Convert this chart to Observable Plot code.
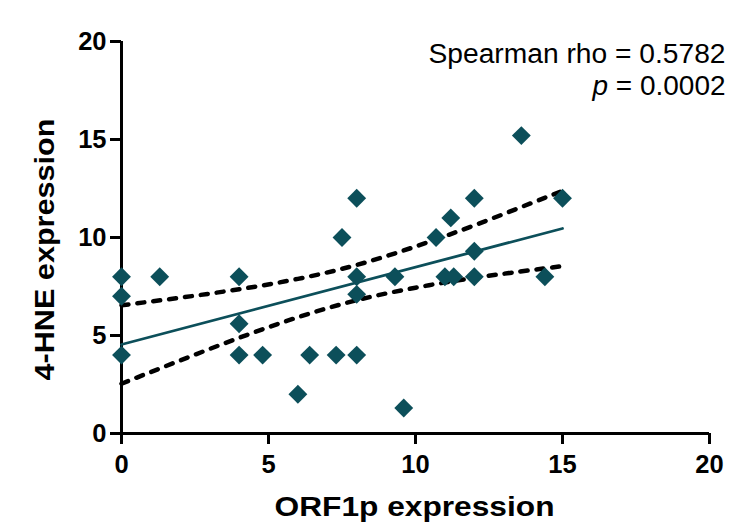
<!DOCTYPE html>
<html><head><meta charset="utf-8">
<script src="https://cdn.jsdelivr.net/npm/d3@7"></script>
<script src="https://cdn.jsdelivr.net/npm/@observablehq/plot@0.6"></script>
<style>body{margin:0;background:#fff;}</style>
</head><body><div id="chart"></div>
<script>
// ORF1p (x) vs 4-HNE (y)
const orf1p = [0, 0, 0, 1.3, 4, 4, 4, 4.8, 6, 6.4, 7.3, 7.5, 8, 8, 8, 8, 9.3, 9.6, 10.7, 11.0, 11.3, 11.2, 12, 12, 12, 13.6, 14.4, 15];
const hne   = [8, 7, 4, 8, 8, 5.6, 4, 4, 2, 4, 4, 10, 12, 8, 7.1, 4, 8, 1.3, 10, 8, 8, 11, 12, 9.3, 8, 15.2, 8, 12];
// regression line endpoints
const fitX = [0, 15];
const fitY = [4.54, 10.46];
// 95% confidence band (dashed curves)
const bandX = [0, 2, 4, 6, 8, 10, 12, 14, 15];
const bandUpper = [6.54, 6.93, 7.36, 7.89, 8.60, 9.54, 10.62, 11.79, 12.38];
const bandLower = [2.54, 3.73, 4.88, 5.93, 6.80, 7.44, 7.94, 8.35, 8.54];
const xTicks = [0, 5, 10, 15, 20];
const yTicks = [0, 5, 10, 15, 20];
const statLine1 = "Spearman rho = 0.5782";
const statLine2 = "p = 0.0002";
const xTitle = "ORF1p expression";
const yTitle = "4-HNE expression";

const teal = "#0c4f5a";
const pts = orf1p.map((x, i) => ({x, y: hne[i]}));
const fit = fitX.map((x, i) => ({x, y: fitY[i]}));
const upper = bandX.map((x, i) => ({x, y: bandUpper[i]}));
const lower = bandX.map((x, i) => ({x, y: bandLower[i]}));
const font = "'Liberation Sans', Arial, sans-serif";

const chart = Plot.plot({
  width: 750, height: 528,
  marginLeft: 121, marginRight: 41, marginTop: 41, marginBottom: 95,
  style: {fontFamily: font, background: "#fff", color: "#000"},
  x: {domain: [0, 20]},
  y: {domain: [0, 20]},
  marks: [
    Plot.ruleY([0], {stroke: "#000", strokeWidth: 3}),
    Plot.ruleX([0], {stroke: "#000", strokeWidth: 3}),
    Plot.axisX({ticks: xTicks, tickSize: 11, tickPadding: 10, stroke: "#000", strokeWidth: 3, fontSize: 25.5, fontWeight: "bold", fill: "#000", label: null}),
    Plot.axisY({ticks: yTicks, tickSize: 11, tickPadding: 4, stroke: "#000", strokeWidth: 3, fontSize: 25.5, fontWeight: "bold", fill: "#000", label: null}),
    Plot.line(upper, {x: "x", y: "y", curve: "natural", stroke: "#000", strokeWidth: 4.5, strokeDasharray: "7,9", strokeLinecap: "round"}),
    Plot.line(lower, {x: "x", y: "y", curve: "natural", stroke: "#000", strokeWidth: 4.5, strokeDasharray: "7,9", strokeLinecap: "round"}),
    Plot.line(fit, {x: "x", y: "y", stroke: teal, strokeWidth: 2.8}),
    Plot.dot(pts, {x: "x", y: "y", symbol: "diamond2", r: 8.5, fill: teal, stroke: "none"}),
    Plot.text([statLine1], {frameAnchor: "top-right", text: d => d, textAnchor: "end", dx: 16, dy: 2.5, fontSize: 27, fill: "#000"}),
    Plot.text([statLine2], {frameAnchor: "top-right", text: d => d, textAnchor: "end", dx: 16, dy: 34, fontSize: 27, fill: "#000"}),
    Plot.text([xTitle], {frameAnchor: "bottom", text: d => d, textAnchor: "middle", dx: -1, dy: 82, fontSize: 27, fontWeight: "bold", fill: "#000"}),
    Plot.text([yTitle], {frameAnchor: "left", text: d => d, textAnchor: "middle", rotate: -90, dx: -76, dy: 12, fontSize: 27, fontWeight: "bold", fill: "#000"})
  ]
});
document.getElementById("chart").append(chart);

// italic "p" and widths matching the reference lettering
const widths = new Map([[statLine1, 297], [statLine2, 133], [xTitle, 280], [yTitle, 262]]);
d3.select(chart).selectAll("text").each(function() {
  const s = this.textContent;
  if (widths.has(s)) {
    this.setAttribute("textLength", widths.get(s));
    this.setAttribute("lengthAdjust", "spacingAndGlyphs");
  }
  if (s === statLine2) {
    const t = d3.select(this);
    t.text(null);
    t.append("tspan").attr("font-style", "italic").text("p");
    t.append("tspan").text(statLine2.slice(1));
  }
});
</script>
</body></html>
